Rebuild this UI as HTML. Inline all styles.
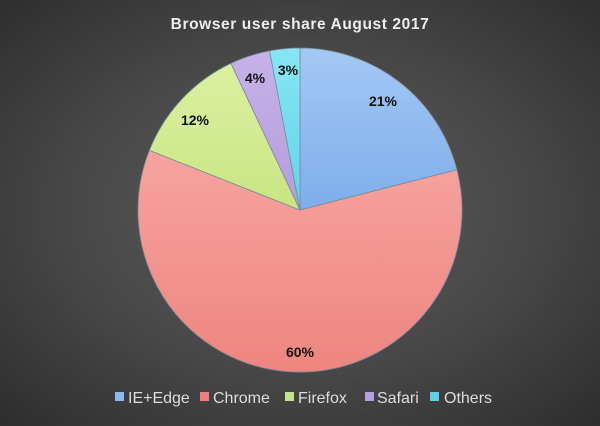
<!DOCTYPE html>
<html><head><style>
html,body{margin:0;padding:0}
body{width:600px;height:421px;overflow:hidden;background:radial-gradient(ellipse at 50% 50%,#5e5e5e 0%,#474747 55%,#2e2e2e 100%);font-family:"Liberation Sans",sans-serif}
</style></head><body>
<svg width="600" height="421" xmlns="http://www.w3.org/2000/svg">
<defs>
<linearGradient id="b" x1="0" y1="0" x2="0" y2="1"><stop offset="0" stop-color="#a3c8f5"/><stop offset="1" stop-color="#7eaeea"/></linearGradient>
<linearGradient id="r" x1="0" y1="0" x2="0" y2="1"><stop offset="0" stop-color="#f7a3a0"/><stop offset="1" stop-color="#ee8580"/></linearGradient>
<linearGradient id="g" x1="0" y1="0" x2="0" y2="1"><stop offset="0" stop-color="#dcf0a0"/><stop offset="1" stop-color="#c9e582"/></linearGradient>
<linearGradient id="p" x1="0" y1="0" x2="0" y2="1"><stop offset="0" stop-color="#c6b2ea"/><stop offset="1" stop-color="#b39ddc"/></linearGradient>
<linearGradient id="c" x1="0" y1="0" x2="0" y2="1"><stop offset="0" stop-color="#86e6f4"/><stop offset="1" stop-color="#5fd4ea"/></linearGradient>
</defs>
<g stroke="#7a8a9a" stroke-width="0.8">
<path d="M300,210 L300,48 A162,162 0 0 1 456.9,169.7 Z" fill="url(#b)"/>
<path d="M300,210 L456.9,169.7 A162,162 0 1 1 149.4,150.4 Z" fill="url(#r)"/>
<path d="M300,210 L149.4,150.4 A162,162 0 0 1 231.0,63.4 Z" fill="url(#g)"/>
<path d="M300,210 L231.0,63.4 A162,162 0 0 1 269.6,50.9 Z" fill="url(#p)"/>
<path d="M300,210 L269.6,50.9 A162,162 0 0 1 300,48 Z" fill="url(#c)"/>
</g>
<text x="300" y="29" text-anchor="middle" font-size="15.5" font-weight="bold" fill="#eeeeee" letter-spacing="0.6">Browser user share August 2017</text>
<g font-size="14" font-weight="bold" fill="#111" text-anchor="middle">
<text x="383" y="106">21%</text>
<text x="300" y="357">60%</text>
<text x="195" y="125">12%</text>
<text x="255" y="83">4%</text>
<text x="288" y="75">3%</text>
</g>
<g font-size="16" fill="#dddddd">
<rect x="115" y="392" width="9" height="9" fill="#8db8f0"/><text x="128" y="403">IE+Edge</text>
<rect x="200" y="392" width="9" height="9" fill="#ee7f7c"/><text x="213" y="403">Chrome</text>
<rect x="285" y="392" width="9" height="9" fill="#c6e58a"/><text x="298" y="403">Firefox</text>
<rect x="365" y="392" width="9" height="9" fill="#b59fdf"/><text x="377" y="403">Safari</text>
<rect x="430" y="392" width="9" height="9" fill="#5fd0e6"/><text x="444" y="403">Others</text>
</g>
</svg>
</body></html>
